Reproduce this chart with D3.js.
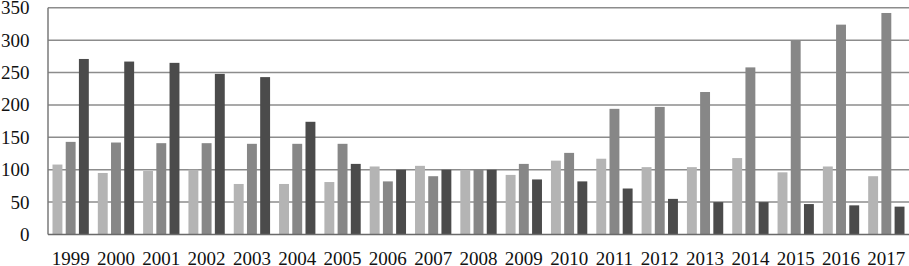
<html>
  <meta charset="utf-8" />
  <script src="https://d3js.org/d3.v7.min.js"></script>
  <body style="margin: 0; background: #fff">
    <svg width="909" height="266" id="chart"></svg>
    <script>
      const years = ["1999", "2000", "2001", "2002", "2003", "2004", "2005", "2006", "2007", "2008",
        "2009", "2010", "2011", "2012", "2013", "2014", "2015", "2016", "2017"];
      const seriesA = [108, 95, 98, 100, 78, 78, 81, 105, 106, 100, 92, 114, 117, 104, 104, 118, 96, 105, 90];
      const seriesB = [143, 142, 141, 141, 140, 140, 140, 82, 90, 100, 109, 126, 194, 197, 220, 258, 300, 324, 342];
      const seriesC = [271, 267, 265, 248, 243, 174, 109, 100, 100, 100, 85, 82, 71, 55, 50, 50, 47, 45, 43];
      const yTicks = [0, 50, 100, 150, 200, 250, 300, 350];
      const colors = ["#b4b4b4", "#878787", "#4b4b4b"];
      const fontFamily = "'Liberation Serif', 'DejaVu Serif', serif";

      const plotLeft = 48, plotRight = 909, plotTop = 7.8, plotBottom = 234.5;
      const svg = d3.select("#chart");

      const x0 = d3.scaleBand().domain(years).range([plotLeft, plotRight]).padding(0);
      const x1 = d3.scaleBand()
        .domain([0, 1, 2])
        .range([4.5, x0.bandwidth() - 4.5])
        .paddingInner(0.25);
      const y = d3.scaleLinear().domain([0, 350]).range([plotBottom, plotTop]);

      // gridlines
      svg.append("g")
        .selectAll("line")
        .data(yTicks.filter((d) => d > 0))
        .enter()
        .append("line")
        .attr("x1", plotLeft)
        .attr("x2", plotRight)
        .attr("y1", (d) => y(d))
        .attr("y2", (d) => y(d))
        .attr("stroke", "#8c8c8c")
        .attr("stroke-width", 1.5);

      const rows = years.map((yr, i) => ({ year: yr, vals: [seriesA[i], seriesB[i], seriesC[i]] }));

      const groups = svg.append("g")
        .selectAll("g")
        .data(rows)
        .enter()
        .append("g")
        .attr("transform", (d) => `translate(${x0(d.year)},0)`);

      groups.selectAll("rect")
        .data((d) => d.vals)
        .enter()
        .append("rect")
        .attr("x", (d, i) => x1(i))
        .attr("width", x1.bandwidth())
        .attr("y", (d) => y(d))
        .attr("height", (d) => plotBottom - y(d))
        .attr("fill", (d, i) => colors[i]);

      // axes lines
      svg.append("line")
        .attr("x1", plotLeft).attr("x2", plotLeft)
        .attr("y1", plotTop).attr("y2", plotBottom)
        .attr("stroke", "#7a7a7a").attr("stroke-width", 1.5);
      svg.append("line")
        .attr("x1", plotLeft).attr("x2", plotRight)
        .attr("y1", plotBottom).attr("y2", plotBottom)
        .attr("stroke", "#6a6a6a").attr("stroke-width", 1.5);

      // y labels
      svg.append("g")
        .selectAll("text")
        .data(yTicks)
        .enter()
        .append("text")
        .attr("x", 29.5)
        .attr("y", (d) => y(d))
        .attr("dy", "0.34em")
        .attr("text-anchor", "end")
        .attr("font-family", fontFamily)
        .attr("font-size", 19)
        .attr("fill", "#111")
        .text((d) => d);

      // x labels
      svg.append("g")
        .selectAll("text")
        .data(years)
        .enter()
        .append("text")
        .attr("x", (d) => x0(d) + x0.bandwidth() / 2)
        .attr("y", 264.5)
        .attr("text-anchor", "middle")
        .attr("font-family", fontFamily)
        .attr("font-size", 19)
        .attr("fill", "#111")
        .text((d) => d);
    </script>
  </body>
</html>
